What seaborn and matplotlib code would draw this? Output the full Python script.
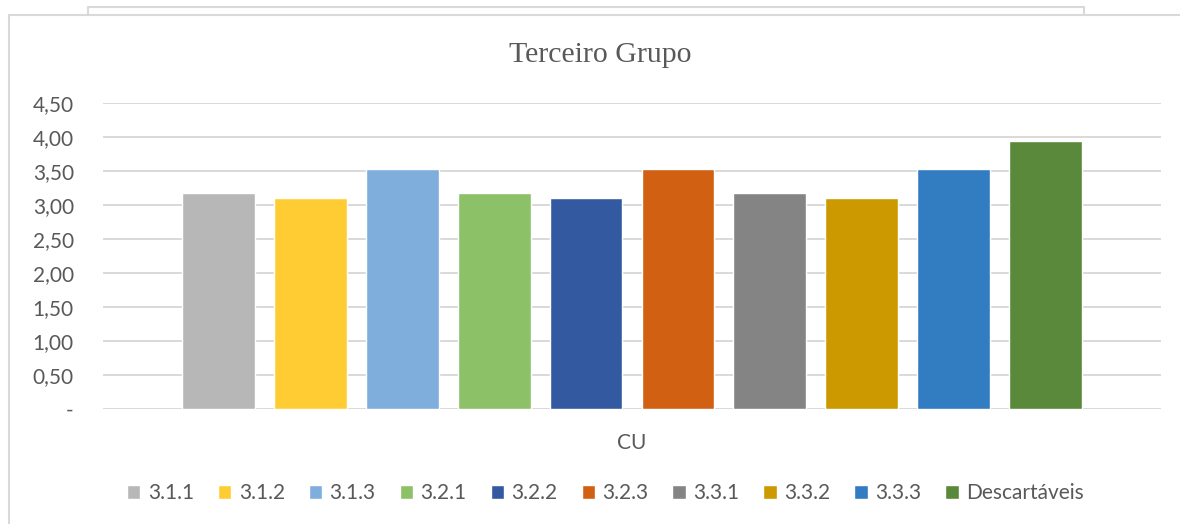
import pandas as pd
import seaborn as sns
import matplotlib.pyplot as plt
from matplotlib.lines import Line2D

categoria = ["CU"]
series = ["3.1.1", "3.1.2", "3.1.3", "3.2.1", "3.2.2", "3.2.3", "3.3.1", "3.3.2", "3.3.3", "Descartáveis"]
valores = [3.17, 3.10, 3.53, 3.17, 3.10, 3.53, 3.17, 3.10, 3.53, 3.94]
cores = ["#B7B7B7", "#FFCD33", "#7FAEDC", "#8CC168", "#335AA1",
         "#D26012", "#848484", "#CC9A00", "#327DC2", "#5A893B"]
yticks = [0, 0.5, 1, 1.5, 2, 2.5, 3, 3.5, 4, 4.5]
ylabels = ["-", "0,50", "1,00", "1,50", "2,00", "2,50", "3,00", "3,50", "4,00", "4,50"]

df = pd.DataFrame({"grupo": categoria * len(series), "serie": series, "valor": valores})

sns.set_theme(style="white")
plt.rcParams["font.family"] = ["Lato", "DejaVu Sans"]
cinza = "#595959"

fig = plt.figure(figsize=(11.8, 5.24), dpi=100)
ax = fig.add_axes([103 / 1180, 1 - 409 / 524, (1161 - 103) / 1180, (409 - 103) / 524])

sns.barplot(data=df, x="grupo", y="valor", hue="serie", palette=cores,
            width=0.8, gap=0.207, ax=ax, saturation=1)

ax.set_xlim(-0.4604, 0.4604)
ax.set_ylim(0, 4.5)
ax.set_yticks(yticks)
ax.set_yticklabels(ylabels)
ax.set_xlabel("")
ax.set_ylabel("")
ax.tick_params(axis="y", length=0, pad=21, labelsize=15, labelcolor=cinza)
ax.tick_params(axis="x", length=0, pad=17, labelsize=15, labelcolor=cinza)
for s in ax.spines.values():
    s.set_visible(False)
ax.yaxis.grid(True, color="#D9D9D9", linewidth=1.4)
ax.set_axisbelow(True)

fig.text(0.509, 1 - 55 / 524, "Terceiro Grupo", ha="center", va="center",
         fontsize=21.5, color=cinza, family=["Liberation Serif", "DejaVu Serif"])

sns.move_legend(ax, "center", bbox_to_anchor=(0.513, 1 - 493 / 524),
                bbox_transform=fig.transFigure, ncol=10, frameon=False, title=None,
                fontsize=15, handlelength=0.65, handleheight=0.65,
                handletextpad=0.35, columnspacing=1.15)
for t in ax.get_legend().get_texts():
    t.set_color(cinza)

# molduras do gráfico
borda = "#D9D9D9"
for xs, ys in [([9, 9], [524, 15]), ([9, 88], [15, 15]), ([88, 88], [15, 7]),
               ([88, 1084], [7, 7]), ([1084, 1084], [7, 15]), ([88, 1180], [15, 15])]:
    fig.add_artist(Line2D([x / 1180 for x in xs], [1 - y / 524 for y in ys],
                          color=borda, linewidth=1.5))

plt.savefig("out.png", dpi=100)
